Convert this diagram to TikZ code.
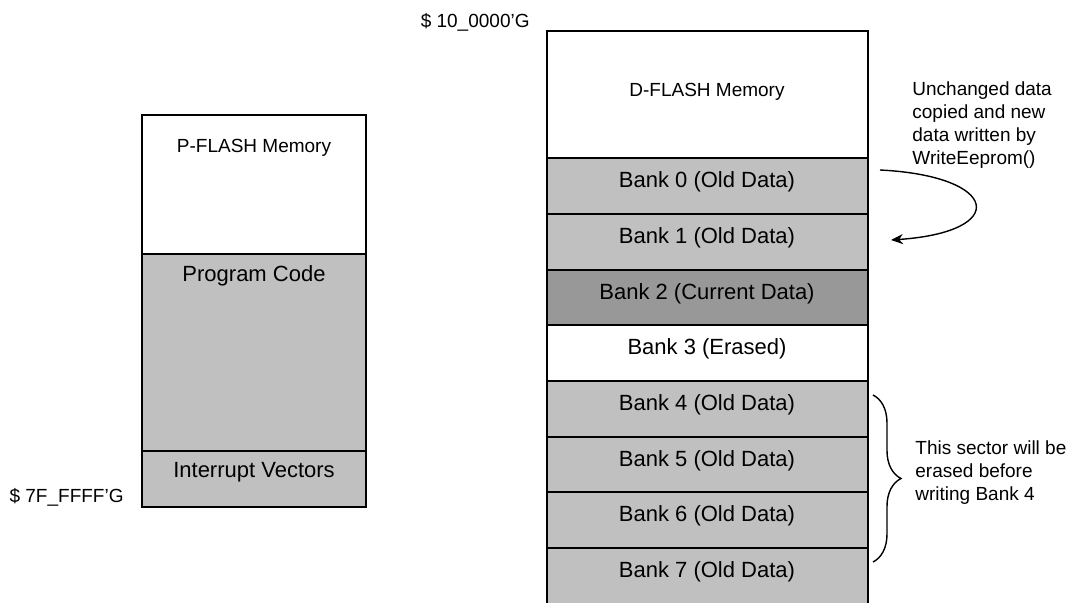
\documentclass[tikz,border=0pt]{standalone}
\usepackage{fontspec}
\setmainfont{Liberation Sans}
\usetikzlibrary{arrows.meta,decorations.pathreplacing}
\definecolor{oldgray}{RGB}{192,192,192}
\definecolor{curgray}{RGB}{152,152,152}
\tikzset{
  memrow/.style={draw, line width=1pt},
  banklbl/.style={inner sep=0pt, font=\fontsize{11}{13}\selectfont},
  memtitle/.style={inner sep=0pt, font=\fontsize{9.5}{11}\selectfont},
  sidenote/.style={inner sep=0pt, align=left, anchor=west, font=\fontsize{9.5}{11.5}\selectfont}
}
\begin{document}
\begin{tikzpicture}[x=0.5pt,y=-0.5pt]
\useasboundingbox (0,0) rectangle (1067,603);
% P-FLASH
\draw[memrow, fill=white] (142,115) rectangle (366,254);
\draw[memrow, fill=oldgray] (142,254) rectangle (366,451);
\draw[memrow, fill=oldgray] (142,451) rectangle (366,507);
\node[memtitle] (pflash) at (254,148) {P-FLASH Memory};
\node[banklbl] (progcode) at (254,276) {Program Code};
\node[banklbl] (intvec) at (254,472) {Interrupt Vectors};
\node[memtitle, anchor=east] (addrend) at (124,497) {\$ 7F\_FFFF'G};
% D-FLASH
\draw[memrow, fill=white] (547,31) rectangle (868,158);
\draw[memrow, fill=oldgray] (547,158) rectangle (868,214);
\draw[memrow, fill=oldgray] (547,214) rectangle (868,270);
\draw[memrow, fill=curgray] (547,270) rectangle (868,325);
\draw[memrow, fill=white] (547,325) rectangle (868,381);
\draw[memrow, fill=oldgray] (547,381) rectangle (868,437);
\draw[memrow, fill=oldgray] (547,437) rectangle (868,492);
\draw[memrow, fill=oldgray] (547,492) rectangle (868,548);
\draw[memrow, fill=oldgray] (547,548) rectangle (868,610);
\node[memtitle] (dflash) at (707,92) {D-FLASH Memory};
\node[memtitle, anchor=east] (addrtop) at (530,22) {\$ 10\_0000'G};
\node[banklbl] (bank0) at (707,182) {Bank 0 (Old Data)};
\node[banklbl] (bank1) at (707,238) {Bank 1 (Old Data)};
\node[banklbl] (bank2) at (707,294) {Bank 2 (Current Data)};
\node[banklbl] (bank3) at (707,349) {Bank 3 (Erased)};
\node[banklbl] (bank4) at (707,405) {Bank 4 (Old Data)};
\node[banklbl] (bank5) at (707,461) {Bank 5 (Old Data)};
\node[banklbl] (bank6) at (707,516) {Bank 6 (Old Data)};
\node[banklbl] (bank7) at (707,572) {Bank 7 (Old Data)};
% copy arrow
\coordinate (copyfrom) at (880,170);
\coordinate (copyto) at (891,240);
\draw[line width=0.7pt, -{Stealth[length=6pt,width=5pt]}] (copyfrom) .. controls (1000,176) and (1010,232) .. (copyto);
\node[sidenote] (copynote) at (912,125) {Unchanged data\\copied and new\\data written by\\WriteEeprom()};
% erase brace
\coordinate (sectop) at (873,395);
\coordinate (secbot) at (873,562);
\draw[line width=0.7pt, decorate, decoration={brace, amplitude=14pt}] (sectop) -- (secbot);
\node[sidenote] (erasenote) at (915,473) {This sector will be\\erased before\\writing Bank 4};
\end{tikzpicture}
\end{document}
